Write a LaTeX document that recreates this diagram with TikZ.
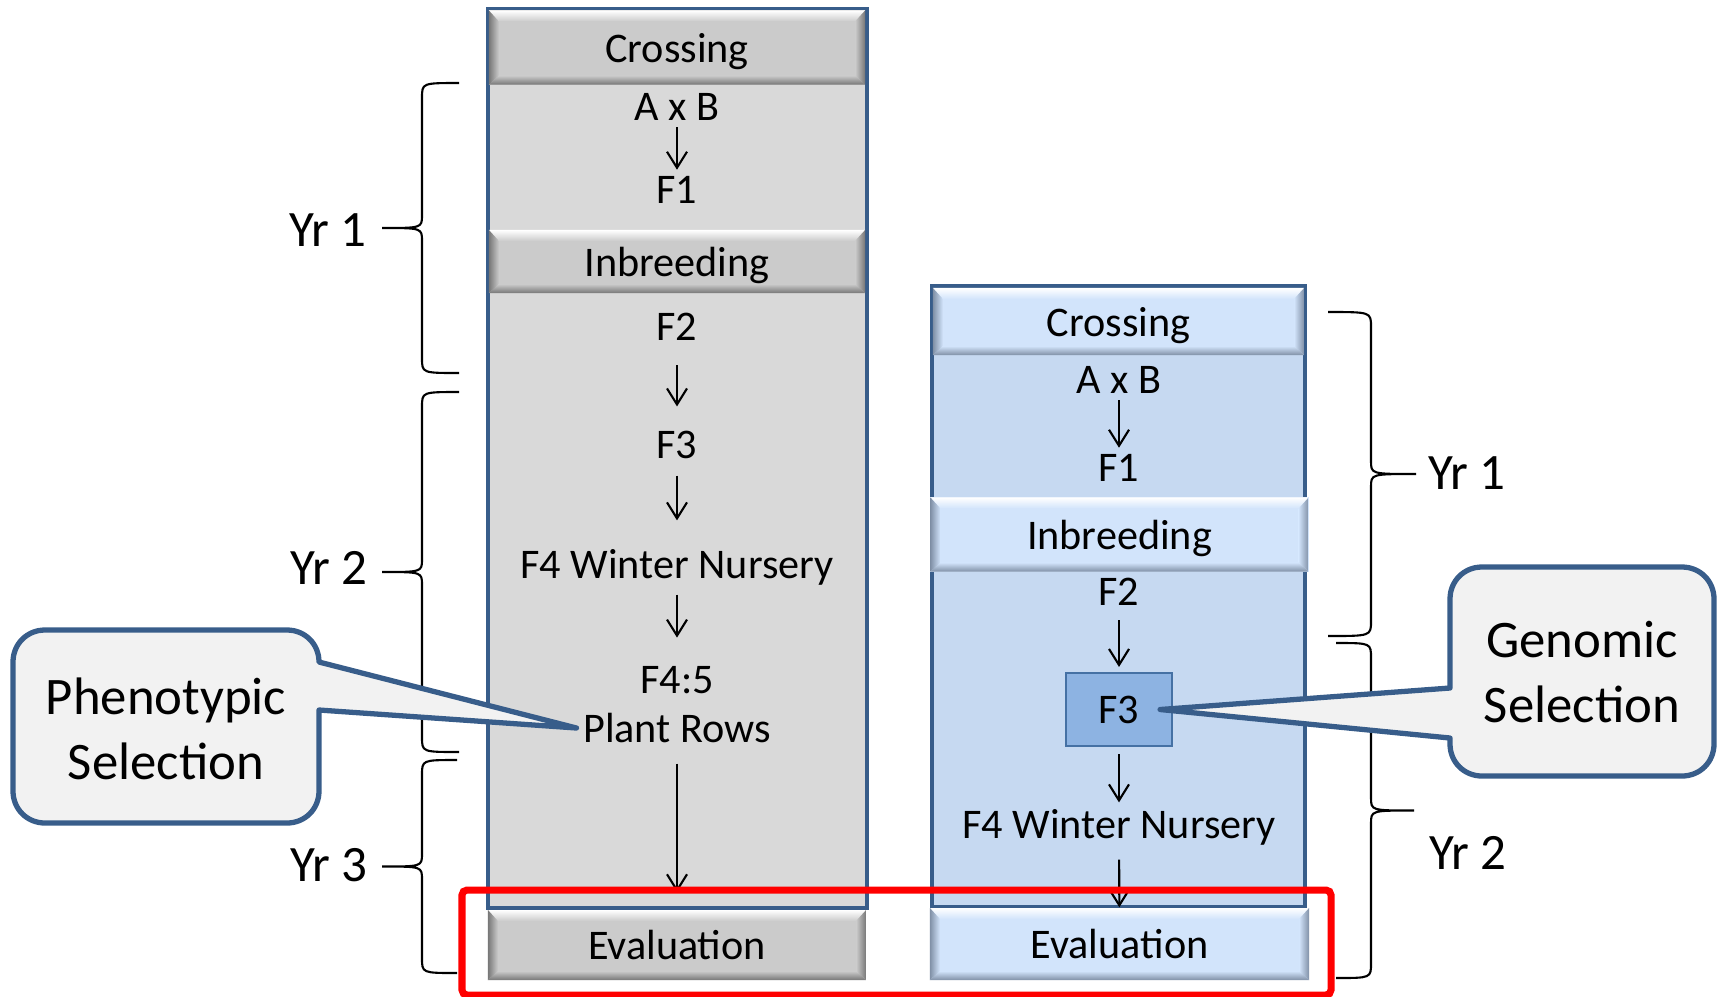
\documentclass[tikz,border=0pt]{standalone}
\usepackage{fontspec}
\setmainfont{Carlito}
\usetikzlibrary{arrows.meta}

\definecolor{edgeblue}{HTML}{385D8A}
\definecolor{grayfill}{HTML}{D9D9D9}
\definecolor{bluefill}{HTML}{C6D9F1}
\definecolor{graybar}{HTML}{CBCBCB}
\definecolor{grayshade}{HTML}{777777}
\definecolor{bluebar}{HTML}{D2E4FB}
\definecolor{blueshade}{HTML}{8090A6}
\definecolor{f3fill}{HTML}{8DB3E2}
\definecolor{f3line}{HTML}{4571A4}
\definecolor{calloutfill}{HTML}{F2F2F2}

% curly brace: ends x, spine x, tip x, top y, bottom y
\newcommand{\yrbrace}[5]{%
  \draw[yrline] (#1,#4) .. controls (#2,#4) .. (#2,#4+15)
    -- (#2,{(#4+#5)/2-13}) .. controls (#2,{(#4+#5)/2}) .. (#3,{(#4+#5)/2})
    .. controls (#2,{(#4+#5)/2}) .. (#2,{(#4+#5)/2+13})
    -- (#2,#5-15) .. controls (#2,#5) .. (#1,#5);}

\begin{document}
\begin{tikzpicture}[x=0.01cm, y=-0.01cm,
    >={Straight Barb[length=1.6mm,width=2mm]},
    column/.style={
        rectangle,
        draw=edgeblue,
        line width=1.2pt
    },
    bar/.style 2 args={
        rectangle,
        fill=#1,
        font=\fontsize{12}{14}\selectfont,
        text depth=0pt,
        path picture={
            \coordinate (nw) at (path picture bounding box.north west);
            \coordinate (ne) at (path picture bounding box.north east);
            \coordinate (sw) at (path picture bounding box.south west);
            \coordinate (se) at (path picture bounding box.south east);
            \shade[top color=white, bottom color=#1] (nw) -- (ne)
                -- ([shift={(-1mm,-1.1mm)}]ne) -- ([shift={(1mm,-1.1mm)}]nw) -- cycle;
            \shade[top color=#1, bottom color=#2] (sw) -- (se)
                -- ([shift={(-1mm,0.9mm)}]se) -- ([shift={(1mm,0.9mm)}]sw) -- cycle;
            \shade[left color=#2, right color=#1] (nw) -- ([shift={(1mm,-1.1mm)}]nw)
                -- ([shift={(1mm,0.9mm)}]sw) -- (sw) -- cycle;
            \shade[left color=#1, right color=#2] (ne) -- (se)
                -- ([shift={(-1mm,0.9mm)}]se) -- ([shift={(-1mm,-1.1mm)}]ne) -- cycle;
        }
    },
    stage/.style={font=\fontsize{12}{14}\selectfont, inner sep=0.6mm},
    flow/.style={->, line width=0.6pt},
    yrline/.style={line width=0.6pt},
    yr/.style={font=\fontsize{14.5}{17}\selectfont},
    bubble/.style={draw=edgeblue, fill=calloutfill, line width=1.5pt, line join=round},
    bubbletext/.style={font=\fontsize{15}{18.5}\selectfont, align=center},
    highlight/.style={draw=red, line width=2pt, rounded corners=0.5mm}
]
\useasboundingbox (0,0) rectangle (1721,996);

% Phenotypic column
\node[column, fill=grayfill, minimum width=3.79cm, minimum height=8.99cm] (pframe) at (677.5,458.5) {};
\node[bar={graybar}{grayshade}, minimum width=3.76cm, minimum height=0.74cm] (pcross) at (677,47.5) {Crossing};
\node[bar={graybar}{grayshade}, minimum width=3.76cm, minimum height=0.63cm] (pinbr) at (677,261.5) {Inbreeding};
\node[bar={graybar}{grayshade}, minimum width=3.78cm, minimum height=0.70cm] (peval) at (677,945) {Evaluation};

\node[stage] (paxb) at (677,107) {A x B};
\node[stage] (pf1) at (677,190) {F1};
\node[stage] (pf2) at (677,327) {F2};
\node[stage] (pf3) at (677,445) {F3};
\node[stage] (pf4) at (677,567) {F4 Winter Nursery};
\node[stage] (pf45) at (677,680) {F4:5};
\node[stage] (prows) at (677,728) {Plant Rows};

\draw[flow] (paxb) -- (pf1);
\draw[flow, shorten <=1.8mm, shorten >=1.8mm] (pf2) -- (pf3);
\draw[flow, shorten <=1mm, shorten >=2.2mm] (pf3) -- (pf4);
\draw[flow, shorten <=0.3mm, shorten >=2.2mm] (pf4) -- (pf45);
\draw[flow, shorten <=1.4mm, shorten >=1.7mm] (prows) -- (peval);

% Genomic column
\node[column, fill=bluefill, minimum width=3.73cm, minimum height=6.21cm] (gframe) at (1118.5,596.5) {};
\node[bar={bluebar}{blueshade}, minimum width=3.71cm, minimum height=0.67cm] (gcross) at (1118.5,321.5) {Crossing};
\node[bar={bluebar}{blueshade}, minimum width=3.78cm, minimum height=0.74cm] (ginbr) at (1119.5,534.5) {Inbreeding};
\node[bar={bluebar}{blueshade}, minimum width=3.79cm, minimum height=0.72cm] (geval) at (1119.5,944) {Evaluation};

\node[stage] (gaxb) at (1119,380) {A x B};
\node[stage] (gf1) at (1119,468) {F1};
\node[stage] (gf2) at (1119,592) {F2};
\node[stage, draw=f3line, fill=f3fill, line width=0.6pt, minimum width=1.06cm, minimum height=0.73cm] (gf3) at (1119,709.5) {F3};
\node[stage] (gf4) at (1119,827) {F4 Winter Nursery};

\draw[flow] (gaxb) -- (gf1);
\draw[flow, shorten <=0.8mm, shorten >=0.5mm] (gf2) -- (gf3);
\draw[flow, shorten <=0.7mm] (gf3) -- (gf4);
\draw[flow, shorten <=0.8mm] (gf4) -- (geval);

% Years
\yrbrace{459}{422}{382}{83}{373}
\yrbrace{459}{422}{382}{392}{752}
\yrbrace{457}{422}{382}{760}{973}
\yrbrace{1328}{1371}{1416}{312}{636}
\yrbrace{1336}{1371}{1414}{643}{978}
\node[yr] (yrp1) at (328,230) {Yr 1};
\node[yr] (yrp2) at (329,568) {Yr 2};
\node[yr] (yrp3) at (329,865) {Yr 3};
\node[yr] (yrg1) at (1467,473) {Yr 1};
\node[yr] (yrg2) at (1468,853) {Yr 2};

% Callouts
\draw[bubble] (45,630) -- (287,630) .. controls (305,630) and (319,644) .. (319,662)
    -- (prows.west) -- (319,710) -- (319,791) .. controls (319,809) and (305,823) .. (287,823)
    -- (45,823) .. controls (27,823) and (13,809) .. (13,791)
    -- (13,662) .. controls (13,644) and (27,630) .. (45,630) -- cycle;
\node[bubbletext] (pheno) at (166,729) {Phenotypic\\Selection};

\draw[bubble] (1482,567) -- (1682,567) .. controls (1700,567) and (1714,581) .. (1714,599)
    -- (1714,744) .. controls (1714,762) and (1700,776) .. (1682,776)
    -- (1482,776) .. controls (1464,776) and (1450,762) .. (1450,744)
    -- (1450,738) -- ([xshift=-1.3mm]gf3.east) -- (1450,688)
    -- (1450,599) .. controls (1450,581) and (1464,567) .. (1482,567) -- cycle;
\node[bubbletext] (geno) at (1582,672) {Genomic\\Selection};

% Evaluation highlight
\draw[highlight] (462,890) rectangle (1331,995);

\end{tikzpicture}
\end{document}
